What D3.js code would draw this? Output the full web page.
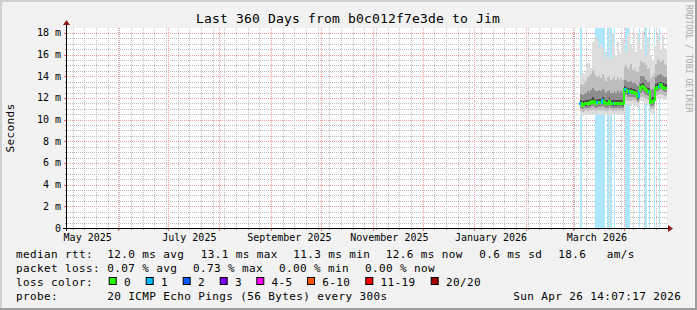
<!DOCTYPE html>
<html><head><meta charset="utf-8">
<script src="https://cdn.jsdelivr.net/npm/d3@7"></script>
<style>body{margin:0;background:#fff}svg{display:block}</style>
</head><body><svg id="c" width="697" height="310"></svg>
<script>
// ---------------- data ----------------
const titleText = "Last 360 Days from b0c012f7e3de to Jim";
const yAxisTitle = "Seconds";
const sideText = "RRDTOOL / TOBI OETIKER";
const rangeStart = "2025-05-01T14:07:17";
const rangeEnd = "2026-04-26T14:07:17";
const yMaxMs = 18.46;
const yTickValues = [0, 2, 4, 6, 8, 10, 12, 14, 16, 18];
const yTickLabels = ["0", "2 m", "4 m", "6 m", "8 m", "10 m", "12 m", "14 m", "16 m", "18 m"];
const xLabelDates = ["2025-05-14T00:00:00", "2025-07-14T00:00:00", "2025-09-12T00:00:00", "2025-11-11T00:00:00", "2026-01-11T00:00:00", "2026-03-15T12:00:00"];
const xLabelTexts = ["May 2025", "July 2025", "September 2025", "November 2025", "January 2026", "March 2026"];
const firstDay = "2026-03-05T12:00:00";
// daily values (ms)
const median = [11.5,11.35,11.4,11.45,11.5,11.45,11.55,11.7,11.6,11.5,11.55,11.6,11.55,11.75,11.6,11.5,11.5,11.7,11.5,11.45,11.5,11.45,11.5,11.45,11.5,11.45,
  12.8,12.75,12.6,12.55,12.6,12.5,12.55,12.4,12.1,12.6,13.0,13.05,12.9,12.75,12.6,12.6,
  11.6,11.7,11.8,
  12.9,13.0,13.1,13.2,13.0,12.9,12.9];
const lossPct = [0.5,0,0,0,0,0,0,0,0,0.2,0.3,0.2,0.2,0.3,0.2,0,0.2,0,0.2,0,0.3,0,0,0,0,0,
  0,0.4,0.2,0.3,0,0,0,0,0,0.73,0,0,0,0.2,0,0.3,
  0,0,0.2,
  0,0,0.3,0,0,0,0];
const pingMin = [10.4,10.35,10.4,10.45,10.4,10.4,10.45,10.5,10.45,10.4,10.45,10.5,10.45,10.5,10.45,10.4,10.4,10.5,10.45,10.4,10.45,10.4,10.45,10.4,10.45,10.4,
  11.5,11.4,11.3,11.4,11.3,11.4,11.2,11.3,11.1,11.3,11.7,11.6,11.5,11.4,11.3,11.4,
  10.6,10.5,10.6,
  11.8,11.9,11.9,12.0,11.8,11.8,11.8];
const pingLo1 = [10.8,10.75,10.8,10.85,10.8,10.8,10.85,10.9,10.85,10.8,10.85,10.9,10.85,10.9,10.85,10.8,10.8,10.9,10.85,10.8,10.85,10.8,10.85,10.8,10.85,10.8,
  11.9,11.85,11.75,11.8,11.75,11.8,11.7,11.7,11.5,11.75,12.1,12.1,12.0,11.9,11.8,11.85,
  10.95,10.95,11.05,
  12.2,12.3,12.35,12.4,12.25,12.2,12.2];
const pingLo2 = [11.1,11.0,11.05,11.1,11.1,11.1,11.15,11.25,11.2,11.1,11.15,11.2,11.15,11.3,11.2,11.1,11.1,11.25,11.1,11.05,11.1,11.05,11.1,11.05,11.1,11.05,
  12.3,12.25,12.1,12.1,12.1,12.05,12.05,12.0,11.75,12.1,12.5,12.55,12.4,12.3,12.15,12.2,
  11.25,11.3,11.4,
  12.55,12.65,12.7,12.8,12.6,12.55,12.55];
const pingLo3 = [11.35,11.2,11.25,11.3,11.35,11.3,11.4,11.55,11.45,11.35,11.4,11.45,11.4,11.6,11.45,11.35,11.35,11.55,11.35,11.3,11.35,11.3,11.35,11.3,11.35,11.3,
  12.6,12.55,12.4,12.4,12.45,12.35,12.4,12.25,11.95,12.45,12.8,12.85,12.7,12.6,12.45,12.45,
  11.45,11.55,11.65,
  12.75,12.85,12.95,13.0,12.85,12.75,12.75];
const pingHi3 = [11.8,11.7,11.75,11.8,11.85,11.8,11.9,12.05,11.95,11.85,11.9,11.95,11.9,12.1,11.95,11.85,11.85,12.05,11.85,11.8,11.85,11.8,11.85,11.8,11.85,11.8,
  13.1,13.05,12.9,12.85,12.9,12.8,12.85,12.7,12.45,12.9,13.3,13.35,13.2,13.05,12.9,12.9,
  11.95,12.05,12.15,
  13.25,13.35,13.45,13.5,13.35,13.25,13.25];
const pingHi2 = [12.4,12.3,12.4,12.5,12.6,12.5,12.7,12.9,12.7,12.6,12.6,12.7,12.6,12.8,12.6,12.5,12.6,12.7,12.5,12.5,12.6,12.5,12.6,12.5,12.6,12.5,
  13.7,13.7,13.5,13.5,13.6,13.4,13.5,13.3,13.1,13.5,14.0,14.0,13.9,13.7,13.5,13.5,
  12.7,12.8,12.9,
  13.9,14.1,14.1,14.2,14.0,13.9,13.9];
const pingHi1 = [13.3,13.2,13.4,13.6,13.9,14.0,14.2,14.6,14.3,14.0,13.9,14.1,13.8,14.2,13.8,13.6,13.9,14.0,13.7,13.8,14.0,13.7,13.9,13.6,13.8,13.7,
  14.9,15.0,14.7,14.9,15.1,14.6,14.8,14.5,14.4,14.9,15.4,15.2,15.3,15.0,14.7,14.8,
  13.8,14.0,14.3,
  15.1,15.6,15.4,15.3,15.5,15.1,15.0];
const pingMax = [14.1,14.3,14.2,14.6,15.2,15.3,14.8,17.2,17.4,17.6,17.3,16.6,17.0,16.6,15.5,16.2,15.8,16.0,15.6,18.0,16.8,16.0,17.2,16.3,16.1,17.5,
  17.0,16.2,17.8,18.3,17.0,16.5,17.9,16.2,18.0,17.2,16.4,18.2,17.0,16.0,17.6,16.8,
  16.0,15.5,17.0,
  16.8,18.0,17.2,16.5,17.8,16.6,16.5];

const legendRows = [
  {label: "median rtt:", items: [["12.0 ms avg", 107.3], ["13.1 ms max", 200.7], ["11.3 ms min", 293.3], ["12.6 ms now", 385.7], ["0.6 ms sd", 479.3], ["18.6", 558.3], ["am/s", 606.7]]},
  {label: "packet loss:", items: [["0.07 % avg", 107.3], ["0.73 % max", 193], ["0.00 % min", 279], ["0.00 % now", 365]]}
];
const lossNames = ["0", "1", "2", "3", "4-5", "6-10", "11-19", "20/20"];
const lossColors = ["#26ff00", "#00b8ff", "#0059ff", "#7e00ff", "#ff00ff", "#ff5500", "#ff0000", "#a10000"];
const probeText = "20 ICMP Echo Pings (56 Bytes) every 300s";
const stampText = "Sun Apr 26 14:07:17 2026";

// ---------------- drawing ----------------
const W = 697, H = 310;
const L = 67, R = 667, T = 28, B = 228;
const svg = d3.select("#c");
const font = "'DejaVu Sans Mono', monospace";

svg.append("rect").attr("width", W).attr("height", H).attr("fill", "#f2f2f2");
svg.append("rect").attr("x", 0).attr("y", 0).attr("width", W).attr("height", 2).attr("fill", "#cfcfcf");
svg.append("rect").attr("x", 0).attr("y", 0).attr("width", 2).attr("height", H).attr("fill", "#cfcfcf");
svg.append("rect").attr("x", 0).attr("y", H - 2).attr("width", W).attr("height", 2).attr("fill", "#9e9e9e");
svg.append("rect").attr("x", W - 2).attr("y", 0).attr("width", 2).attr("height", H).attr("fill", "#9e9e9e");

const x = d3.scaleTime().domain([new Date(rangeStart), new Date(rangeEnd)]).range([L, R]);
const y = d3.scaleLinear().domain([0, yMaxMs]).range([B, T]);

svg.append("rect").attr("x", L).attr("y", T).attr("width", R - L).attr("height", B - T).attr("fill", "#ffffff");

// dotted patterns
const defs = svg.append("defs");
const minorCol = "#bdbdbd", majorCol = "#f59a9a";
[["vMinor", minorCol, 1, 2], ["vMajor", majorCol, 1, 2], ["hMinor", minorCol, 2, 1], ["hMajor", majorCol, 2, 1]].forEach(([id, c, w, h]) => {
  const p = defs.append("pattern").attr("id", id).attr("patternUnits", "userSpaceOnUse")
    .attr("x", 0).attr("y", 0).attr("width", w).attr("height", h);
  p.append("rect").attr("x", 0).attr("y", 0).attr("width", 1).attr("height", 1).attr("fill", c);
});

const gGrid = svg.append("g").attr("shape-rendering", "crispEdges");
d3.range(0, yMaxMs, 0.5).forEach(v => {
  const major = Math.abs(v / 2 - Math.round(v / 2)) < 1e-6;
  const yy = Math.round(y(v));
  gGrid.append("rect").attr("x", L).attr("width", R - L).attr("y", yy).attr("height", 1)
    .attr("fill", major ? "url(#hMajor)" : "url(#hMinor)");
});
d3.timeMonday.range(new Date(rangeStart), new Date(rangeEnd)).forEach(d => {
  const xx = Math.round(x(d));
  gGrid.append("rect").attr("x", xx).attr("width", 1).attr("y", T).attr("height", B - T).attr("fill", "url(#vMinor)");
});
d3.timeMonth.range(new Date(rangeStart), new Date(rangeEnd)).forEach(d => {
  const xx = Math.round(x(d));
  gGrid.append("rect").attr("x", xx).attr("width", 1).attr("y", T).attr("height", B - T).attr("fill", "#ffffff");
  gGrid.append("rect").attr("x", xx).attr("width", 1).attr("y", T).attr("height", B - T).attr("fill", "url(#vMajor)");
});

const day0 = new Date(firstDay);
const colStart = i => d3.timeDay.offset(day0, i);
svg.append("clipPath").attr("id", "pc").append("rect").attr("x", L).attr("y", T).attr("width", R - L).attr("height", B - T);
const gData = svg.append("g").attr("shape-rendering", "crispEdges").attr("clip-path", "url(#pc)");
const colX0 = i => x(colStart(i));
const colX1 = i => x(colStart(i + 1));

lossPct.forEach((p, i) => {
  if (p > 0) {
    gData.append("rect").attr("x", colX0(i)).attr("width", colX1(i) - colX0(i))
      .attr("y", T).attr("height", B - T).attr("fill", "#aee6fb");
  }
});

const bands = [
  [pingMin, pingMax, "#dddddd"],
  [pingLo1, pingHi1, "#bdbdbd"],
  [pingLo2, pingHi2, "#8e8e8e"],
  [pingLo3, pingHi3, "#4c4c4c"]
];
bands.forEach(([lo, hi, col]) => {
  const loE = lo.concat([lo[lo.length - 1]]), hiE = hi.concat([hi[hi.length - 1]]);
  const area = d3.area().curve(d3.curveStepAfter)
    .x((d, i) => colX0(i)).y0((d, i) => y(loE[i])).y1((d, i) => y(hiE[i]));
  gData.append("path").attr("d", area(loE)).attr("fill", col);
});

median.forEach((m, i) => {
  const col = lossPct[i] >= 0.3 ? lossColors[1] : lossColors[0];
  const x0 = colX0(i), x1 = colX1(i);
  const yPrev = i > 0 ? y(median[i - 1]) : y(m);
  const yy = y(m);
  gData.append("rect").attr("x", x0 - 1).attr("width", 2)
    .attr("y", Math.min(yPrev, yy) - 1).attr("height", Math.abs(yy - yPrev) + 2).attr("fill", col);
  gData.append("rect").attr("x", x0 - 1).attr("width", x1 - x0 + 1)
    .attr("y", yy - 1.5).attr("height", 3).attr("fill", col);
});

const gAx = svg.append("g").attr("shape-rendering", "crispEdges");
d3.range(0, yMaxMs, 0.5).forEach(v => {
  const major = Math.abs(v / 2 - Math.round(v / 2)) < 1e-6;
  const yy = Math.round(y(v));
  gAx.append("rect").attr("x", L - (major ? 3 : 2)).attr("width", major ? 3 : 2).attr("y", yy).attr("height", 1)
    .attr("fill", major ? "#ff6060" : "#999");
});
d3.timeMonday.range(new Date(rangeStart), new Date(rangeEnd)).forEach(d => {
  gAx.append("rect").attr("x", Math.round(x(d))).attr("width", 1).attr("y", B).attr("height", 2).attr("fill", "#999");
});
d3.timeMonth.range(new Date(rangeStart), new Date(rangeEnd)).forEach(d => {
  gAx.append("rect").attr("x", Math.round(x(d))).attr("width", 1).attr("y", B).attr("height", 3).attr("fill", "#ff6060");
});
gAx.append("rect").attr("x", L - 4).attr("width", R + 2 - (L - 4)).attr("y", B).attr("height", 1).attr("fill", "#000");
gAx.append("rect").attr("x", L - 1).attr("width", 1).attr("y", T - 4).attr("height", B + 3 - (T - 4)).attr("fill", "#000");
svg.append("path").attr("d", `M${L - 4},${T - 3} L${L + 3},${T - 3} L${L - 0.5},${T - 8} Z`).attr("fill", "#8b1a1a");
svg.append("path").attr("d", `M${R + 1},${B - 3} L${R + 1},${B + 4} L${R + 6},${B + 0.5} Z`).attr("fill", "#8b1a1a");

yTickValues.forEach((v, i) => {
  svg.append("text").attr("x", 61).attr("y", y(v) + 3.5).attr("text-anchor", "end")
    .attr("font-family", font).attr("font-size", "10px").attr("fill", "#000").text(yTickLabels[i]);
});
xLabelDates.forEach((m, i) => {
  svg.append("text").attr("x", x(new Date(m))).attr("y", 241).attr("text-anchor", "middle")
    .attr("font-family", font).attr("font-size", "10px").attr("fill", "#000").text(xLabelTexts[i]);
});

svg.append("text").attr("x", 196).attr("y", 23).attr("font-family", font).attr("font-size", "13px")
  .attr("letter-spacing", "0.17px").attr("fill", "#000").text(titleText);
svg.append("text").attr("transform", "translate(14,128) rotate(-90)").attr("text-anchor", "middle")
  .attr("font-family", font).attr("font-size", "11px").attr("letter-spacing", "0.38px").attr("fill", "#000").text(yAxisTitle);
svg.append("text").attr("transform", "translate(685.5,5) rotate(90)")
  .attr("font-family", font).attr("font-size", "8px").attr("letter-spacing", "0.08px").attr("fill", "#a8a8a8").text(sideText);

const legFont = sel => sel.attr("font-family", font).attr("font-size", "11px").attr("letter-spacing", "0.38px").attr("fill", "#000");
const rowY = [258, 272, 286, 300];
legendRows.forEach((r, ri) => {
  svg.append("text").attr("x", 16).attr("y", rowY[ri]).call(legFont).text(r.label);
  r.items.forEach(([t, xx]) => svg.append("text").attr("x", xx).attr("y", rowY[ri]).call(legFont).text(t));
});
svg.append("text").attr("x", 16).attr("y", rowY[2]).call(legFont).text("loss color:");
const boxX = [108.7, 145.7, 182.7, 219.7, 256.3, 307, 365.3, 430.7];
lossNames.forEach((n, i) => {
  svg.append("rect").attr("x", boxX[i] + 0.5).attr("y", rowY[2] - 8.5).attr("width", 7).attr("height", 7)
    .attr("fill", lossColors[i]).attr("stroke", "#000").attr("stroke-width", 1);
  svg.append("text").attr("x", boxX[i] + 15.3).attr("y", rowY[2]).call(legFont).text(n);
});
svg.append("text").attr("x", 16).attr("y", rowY[3]).call(legFont).text("probe:");
svg.append("text").attr("x", 107.3).attr("y", rowY[3]).call(legFont).text(probeText);
svg.append("text").attr("x", 513.3).attr("y", rowY[3]).call(legFont).text(stampText);
</script></body></html>
